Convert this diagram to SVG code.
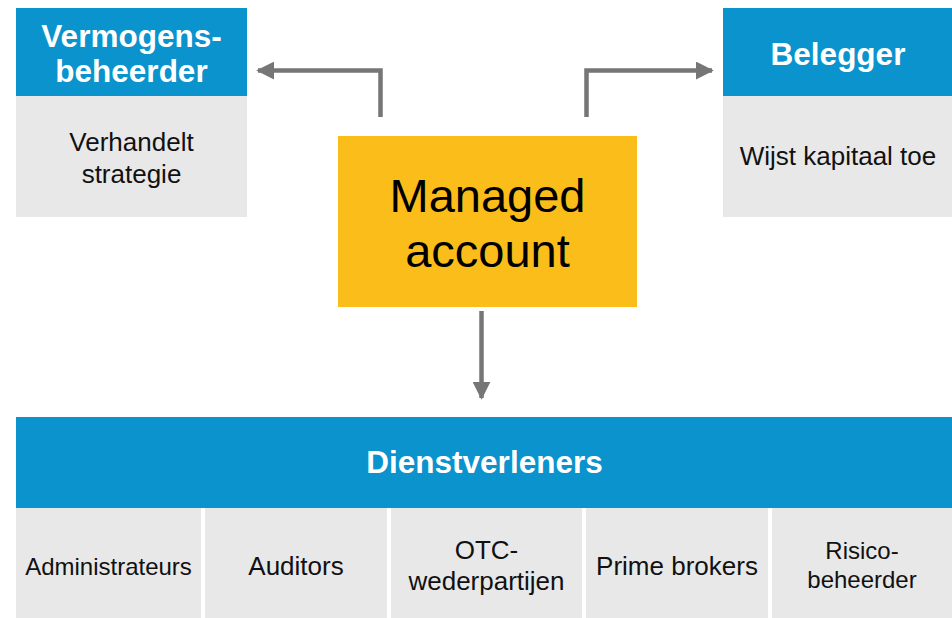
<svg xmlns="http://www.w3.org/2000/svg" width="952" height="618" viewBox="0 0 952 618">
  <defs>
    <style>
      .head { fill: #0A93CC; }
      .body { fill: #E8E8E8; }
      .core { fill: #FABD1A; }
      .ht { font-family: "Liberation Sans", Arial, sans-serif; font-weight: bold; font-size: 31.5px; fill: #FFFFFF; text-anchor: middle; }
      .bt { font-family: "Liberation Sans", Arial, sans-serif; font-size: 26px; fill: #111111; text-anchor: middle; }
      .st { font-family: "Liberation Sans", Arial, sans-serif; font-size: 24px; fill: #111111; text-anchor: middle; }
      .mt { font-family: "Liberation Sans", Arial, sans-serif; font-size: 47px; fill: #000000; text-anchor: middle; }
      .link { fill: none; stroke: #767676; stroke-width: 4.5; }
    </style>
    <marker id="arrow" viewBox="0 0 10 10" refX="9" refY="5" markerWidth="4" markerHeight="4" markerUnits="strokeWidth" orient="auto">
      <path d="M0,0 L10,5 L0,10 Z" fill="#767676"/>
    </marker>
  </defs>

  <rect width="952" height="618" fill="#FFFFFF"/>

  <!-- asset manager -->
  <g id="vermogensbeheerder">
    <rect class="head" x="16" y="8" width="231" height="88"/>
    <rect class="body" x="16" y="96" width="231" height="121"/>
    <text class="ht" x="131.5" y="47">Vermogens-</text>
    <text class="ht" x="131.5" y="82">beheerder</text>
    <text class="bt" x="131.5" y="151">Verhandelt</text>
    <text class="bt" x="131.5" y="183">strategie</text>
  </g>

  <!-- investor -->
  <g id="belegger">
    <rect class="head" x="723" y="8" width="229" height="88"/>
    <rect class="body" x="723" y="96" width="229" height="121"/>
    <text class="ht" x="838" y="65">Belegger</text>
    <text class="bt" x="838" y="165">Wijst kapitaal toe</text>
  </g>

  <!-- central account -->
  <g id="managed-account">
    <rect class="core" x="338" y="136" width="299" height="171"/>
    <text class="mt" x="487.5" y="212">Managed</text>
    <text class="mt" x="487.5" y="267">account</text>
  </g>

  <!-- service providers -->
  <g id="dienstverleners">
    <rect class="head" x="16" y="417" width="936" height="91"/>
    <text class="ht" x="484.5" y="473">Dienstverleners</text>
  </g>
  <g id="administrateurs">
    <rect class="body" x="16" y="508" width="185" height="110"/>
    <text class="st" x="108.5" y="575">Administrateurs</text>
  </g>
  <g id="auditors">
    <rect class="body" x="205" y="508" width="182" height="110"/>
    <text class="bt" x="296" y="575">Auditors</text>
  </g>
  <g id="otc-wederpartijen">
    <rect class="body" x="391" y="508" width="191" height="110"/>
    <text class="bt" x="486.5" y="559">OTC-</text>
    <text class="bt" x="486.5" y="590">wederpartijen</text>
  </g>
  <g id="prime-brokers">
    <rect class="body" x="586" y="508" width="182" height="110"/>
    <text class="bt" x="677" y="575">Prime brokers</text>
  </g>
  <g id="risicobeheerder">
    <rect class="body" x="772" y="508" width="180" height="110"/>
    <text class="st" x="862" y="559">Risico-</text>
    <text class="st" x="862" y="588">beheerder</text>
  </g>

  <!-- connectors -->
  <g id="connectors">
    <path class="link" d="M380.5,117 V70.5 H258" marker-end="url(#arrow)"/>
    <path class="link" d="M586.5,117 V70.5 H712" marker-end="url(#arrow)"/>
    <path class="link" d="M481.5,311 V398" marker-end="url(#arrow)"/>
  </g>
</svg>
